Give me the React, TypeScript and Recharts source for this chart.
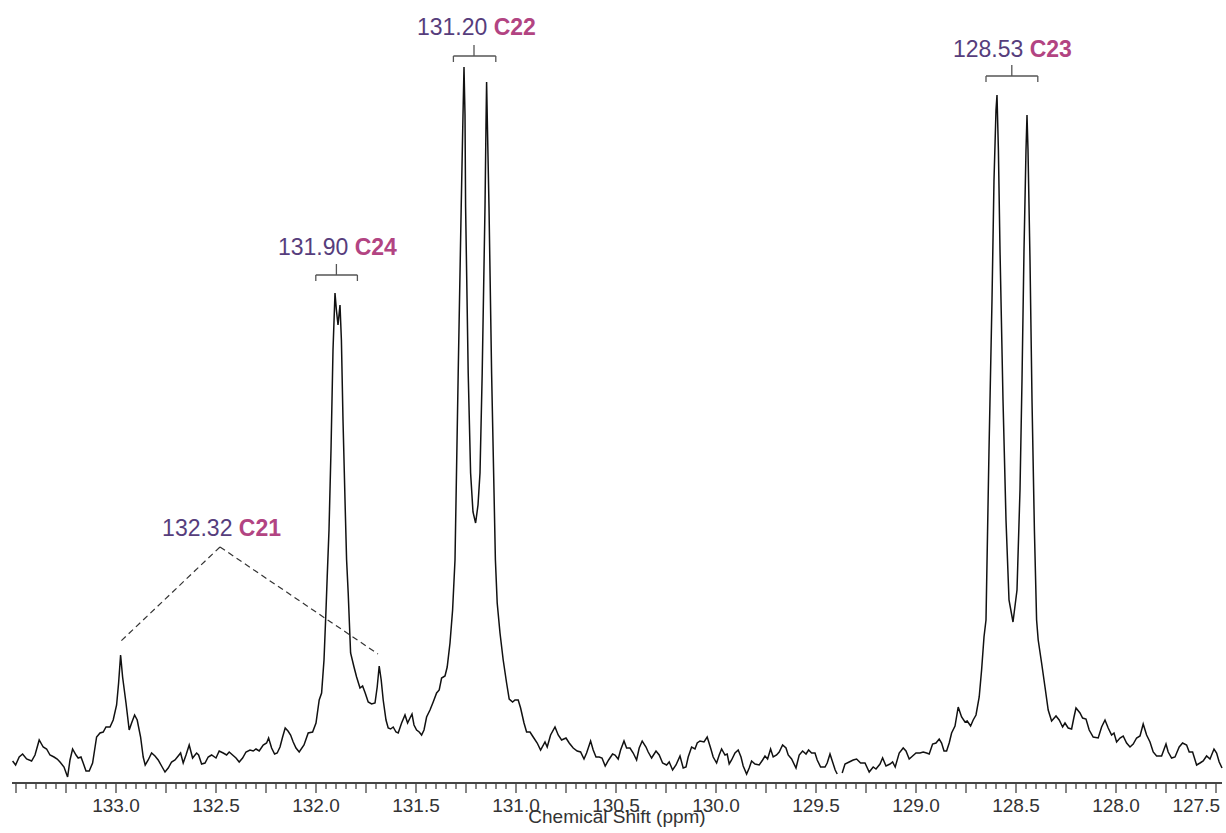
import { LineChart, Line, XAxis, YAxis, ReferenceLine, ReferenceDot } from 'recharts';

// 13C NMR, olefinic region. Shift in ppm, intensity in arbitrary units.
const shiftPpm = [
  133.517, 133.502, 133.484, 133.467, 133.447, 133.422, 133.405, 133.384, 133.364, 133.347,
  133.33, 133.31, 133.294, 133.28, 133.26, 133.242, 133.23, 133.217, 133.2, 133.189,
  133.175, 133.164, 133.15, 133.134, 133.117, 133.097, 133.08, 133.064, 133.05, 133.03,
  133.014, 132.997, 132.987, 132.977, 132.967, 132.95, 132.934, 132.922, 132.907, 132.894,
  132.877, 132.864, 132.854, 132.839, 132.822, 132.805, 132.789, 132.772, 132.755, 132.739,
  132.722, 132.705, 132.689, 132.677, 132.664, 132.65, 132.634, 132.617, 132.597, 132.587,
  132.572, 132.555, 132.539, 132.522, 132.5, 132.484, 132.464, 132.447, 132.434, 132.417,
  132.4, 132.384, 132.367, 132.35, 132.33, 132.314, 132.3, 132.284, 132.264, 132.247,
  132.237, 132.222, 132.207, 132.194, 132.18, 132.167, 132.154, 132.14, 132.127, 132.114,
  132.1, 132.084, 132.06, 132.039, 132.017, 132.0, 131.984, 131.972, 131.96, 131.95,
  131.944, 131.935, 131.925, 131.915, 131.905, 131.898, 131.89, 131.88, 131.873, 131.865,
  131.855, 131.847, 131.839, 131.827, 131.81, 131.797, 131.78, 131.767, 131.754, 131.739,
  131.722, 131.705, 131.694, 131.684, 131.674, 131.664, 131.65, 131.639, 131.627, 131.614,
  131.6, 131.589, 131.572, 131.555, 131.542, 131.53, 131.52, 131.51, 131.497, 131.484,
  131.472, 131.46, 131.447, 131.43, 131.414, 131.397, 131.384, 131.372, 131.355, 131.344,
  131.33, 131.317, 131.305, 131.289, 131.274, 131.265, 131.26, 131.255, 131.252, 131.239,
  131.227, 131.215, 131.202, 131.19, 131.18, 131.169, 131.155, 131.15, 131.147, 131.143,
  131.135, 131.122, 131.103, 131.094, 131.08, 131.064, 131.047, 131.034, 131.017, 131.005,
  130.989, 130.977, 130.96, 130.947, 130.93, 130.914, 130.894, 130.877, 130.855, 130.844,
  130.827, 130.805, 130.789, 130.772, 130.75, 130.734, 130.714, 130.694, 130.677, 130.66,
  130.647, 130.627, 130.614, 130.6, 130.584, 130.57, 130.554, 130.537, 130.517, 130.505,
  130.489, 130.477, 130.46, 130.447, 130.43, 130.414, 130.397, 130.384, 130.369, 130.35,
  130.339, 130.322, 130.3, 130.284, 130.267, 130.247, 130.234, 130.217, 130.2, 130.18,
  130.164, 130.15, 130.139, 130.122, 130.105, 130.094, 130.08, 130.06, 130.044, 130.027,
  130.014, 129.997, 129.984, 129.972, 129.955, 129.944, 129.934, 129.922, 129.905, 129.889,
  129.875, 129.864, 129.847, 129.834, 129.822, 129.805, 129.784, 129.767, 129.755, 129.742,
  129.727, 129.714, 129.697, 129.684, 129.667, 129.65, 129.639, 129.622, 129.6, 129.584,
  129.567, 129.55, 129.537, 129.522, 129.505, 129.494, 129.477, 129.455, 129.444, 129.43,
  129.417, 129.404, 129.394, 129.38, 129.369, 129.355, 129.334, 129.314, 129.297, 129.277,
  129.255, 129.234, 129.214, 129.2, 129.18, 129.167, 129.15, 129.13, 129.117, 129.104,
  129.084, 129.064, 129.05, 129.034, 129.017, 129.0, 128.98, 128.964, 128.947, 128.934,
  128.917, 128.9, 128.884, 128.872, 128.86, 128.847, 128.834, 128.822, 128.805, 128.789,
  128.772, 128.755, 128.744, 128.727, 128.714, 128.7, 128.684, 128.672, 128.66, 128.65,
  128.635, 128.62, 128.61, 128.6, 128.595, 128.588, 128.58, 128.565, 128.55, 128.535,
  128.515, 128.495, 128.48, 128.47, 128.46, 128.45, 128.445, 128.44, 128.43, 128.42,
  128.408, 128.397, 128.389, 128.372, 128.355, 128.339, 128.322, 128.3, 128.284, 128.267,
  128.255, 128.239, 128.222, 128.21, 128.2, 128.18, 128.167, 128.15, 128.134, 128.114,
  128.089, 128.072, 128.055, 128.039, 128.022, 128.01, 127.997, 127.98, 127.964, 127.947,
  127.93, 127.914, 127.897, 127.88, 127.864, 127.847, 127.83, 127.814, 127.797, 127.772,
  127.75, 127.739, 127.722, 127.705, 127.684, 127.667, 127.647, 127.634, 127.617, 127.597,
  127.58, 127.564, 127.547, 127.53, 127.51, 127.497, 127.484, 127.47,
];

// null = acquisition gap, the trace is broken there
const intensity = [
  22, 18, 26, 29, 24, 22, 28, 43, 36, 34,
  28, 26, 24, 21, 16, 6, 23, 34, 28, 25,
  26, 20, 12, 12, 20, 46, 50, 51, 56, 56,
  63, 78, 100, 128, 106, 80, 53, 60, 68, 63,
  46, 26, 18, 23, 30, 27, 23, 17, 11, 15,
  21, 23, 27, 30, 20, 28, 38, 25, 30, 28,
  19, 20, 26, 28, 25, 32, 30, 28, 31, 28,
  25, 21, 25, 31, 33, 32, 34, 32, 38, 40,
  45, 35, 29, 30, 36, 46, 55, 52, 48, 41,
  35, 31, 38, 50, 51, 60, 83, 90, 123, 173,
  206, 253, 333, 433, 490, 473, 458, 478, 443, 363,
  283, 223, 190, 130, 116, 106, 95, 97, 90, 81,
  79, 80, 96, 117, 103, 83, 63, 55, 54, 56,
  51, 50, 60, 68, 60, 65, 69, 58, 53, 51,
  48, 53, 66, 73, 81, 90, 93, 105, 107, 116,
  140, 173, 223, 410, 576, 668, 716, 668, 576, 410,
  310, 271, 260, 278, 310, 410, 576, 658, 701, 658,
  576, 410, 223, 180, 150, 123, 100, 84, 81, 83,
  83, 75, 60, 51, 51, 46, 40, 33, 41, 36,
  48, 56, 48, 43, 45, 40, 35, 32, 31, 24,
  30, 42, 33, 26, 26, 25, 17, 23, 29, 28,
  24, 33, 42, 35, 35, 30, 23, 35, 42, 36,
  31, 25, 32, 28, 20, 18, 21, 13, 18, 27,
  15, 16, 26, 36, 34, 40, 42, 41, 46, 35,
  26, 20, 28, 34, 28, 29, 19, 23, 30, 33,
  26, 17, 9, 15, 22, 19, 18, 23, 27, 24,
  34, 26, 28, 31, 38, 35, 28, 24, 15, 28,
  32, 29, 33, 30, 30, 23, 16, 16, 20, 29,
  21, 13, 9, null, 10, 19, 21, 23, 24, 20,
  20, 11, 16, 14, 19, 25, 17, 19, 21, 16,
  30, 35, 32, 24, 27, 30, 30, 31, 30, 29,
  39, 40, 44, 40, 32, 32, 40, 50, 57, 76,
  66, 61, 62, 57, 63, 68, 86, 113, 146, 163,
  333, 483, 603, 673, 688, 633, 533, 383, 263, 183,
  161, 193, 293, 403, 533, 633, 668, 633, 523, 383,
  253, 163, 143, 120, 96, 73, 62, 67, 63, 56,
  60, 55, 54, 66, 75, 70, 65, 64, 53, 46,
  45, 56, 63, 55, 48, 50, 41, 45, 47, 40,
  36, 39, 45, 47, 59, 48, 41, 31, 27, 27,
  39, 31, 25, 26, 36, 40, 38, 31, 31, 18,
  20, 22, 27, 24, 34, 30, 21, 15,
];

const tickLabels = [
  '133.0', '132.5', '132.0', '131.5', '131.0', '130.5',
  '130.0', '129.5', '129.0', '128.5', '128.0', '127.5',
];

const peakShifts = ['132.32', '131.90', '131.20', '128.53'];
const peakCarbons = ['C21', 'C24', 'C22', 'C23'];

// where each annotation sits, in chart units [ppm, intensity]
const labelAnchors = [
  [132.472, 247],
  [131.893, 528],
  [131.198, 748],
  [128.518, 726],
];

// brackets over the split signals (C24, C22, C23)
const brackets = [
  { left: 132.001, right: 131.793, mid: 131.898, level: 508 },
  { left: 131.313, right: 131.101, mid: 131.21, level: 727 },
  { left: 128.65, right: 128.391, mid: 128.521, level: 707 },
];

// dashed leader for the weak C21 signal: apex, then the two ends
const c21Leader = { apex: [132.48, 236], ends: [[132.98, 141], [131.69, 129]] };

const spectrum = shiftPpm.map((ppm, i) => ({ ppm, intensity: intensity[i] }));

const axisTicks = Array.from({ length: 121 }, (_, i) => Math.round((127.5 + i * 0.05) * 100) / 100);
const lastTick = axisTicks[0];

const NUM_COLOR = '#563d7c';
const ATOM_COLOR = '#b24482';
const AXIS_COLOR = '#444';

function PpmTick({ x, y, payload }: any) {
  const hundredths = Math.round(payload.value * 100);
  const major = hundredths % 25 === 0;
  const text = payload.value.toFixed(1);
  const labelled = hundredths % 50 === 0 && tickLabels.includes(text);
  // the rightmost label is pulled inside the chart edge
  const atEdge = payload.value === lastTick;
  return (
    <g>
      <line x1={x} x2={x} y1={y} y2={y + (major ? 10 : 6)} stroke={AXIS_COLOR} strokeWidth={1.3} />
      {labelled && (
        <text
          x={atEdge ? x + 4 : x}
          y={y + 29}
          textAnchor={atEdge ? 'end' : 'middle'}
          fontSize={19}
          fill="#333"
        >
          {text}
        </text>
      )}
    </g>
  );
}

function AxisTitle({ viewBox }: any) {
  return (
    <text x={viewBox.x + viewBox.width / 2} y={viewBox.y + 40} textAnchor="middle" fontSize={19} fill="#333">
      Chemical Shift (ppm)
    </text>
  );
}

function peakLabel(shift: string, carbon: string) {
  return ({ viewBox }: any) => (
    <text x={viewBox.x} y={viewBox.y} textAnchor="middle" fontSize={23}>
      <tspan fill={NUM_COLOR}>{shift + '\u00a0'}</tspan>
      <tspan fill={ATOM_COLOR} fontWeight="bold">{carbon}</tspan>
    </text>
  );
}

export default function App() {
  const bracketLines = brackets.flatMap((b, i) => [
    <ReferenceLine key={`bh${i}`} segment={[{ x: b.left, y: b.level }, { x: b.right, y: b.level }]} stroke="#555" strokeWidth={1.3} />,
    <ReferenceLine key={`bl${i}`} segment={[{ x: b.left, y: b.level }, { x: b.left, y: b.level - 6 }]} stroke="#555" strokeWidth={1.3} />,
    <ReferenceLine key={`br${i}`} segment={[{ x: b.right, y: b.level }, { x: b.right, y: b.level - 6 }]} stroke="#555" strokeWidth={1.3} />,
    <ReferenceLine key={`bm${i}`} segment={[{ x: b.mid, y: b.level }, { x: b.mid, y: b.level + 11 }]} stroke="#555" strokeWidth={1.3} />,
  ]);

  const leaderLines = c21Leader.ends.map((end, i) => (
    <ReferenceLine
      key={`ld${i}`}
      segment={[{ x: c21Leader.apex[0], y: c21Leader.apex[1] }, { x: end[0], y: end[1] }]}
      stroke="#333"
      strokeWidth={1.2}
      strokeDasharray="6 4"
    />
  ));

  return (
    <div style={{ position: 'absolute', left: 0, top: 0, background: '#fff', fontFamily: '"Liberation Sans", Arial, sans-serif' }}>
      <LineChart width={1226} height={833} data={spectrum} margin={{ top: 10, right: 4, bottom: 0, left: 12 }}>
        <XAxis
          dataKey="ppm"
          type="number"
          domain={[127.47, 133.52]}
          reversed
          ticks={axisTicks}
          interval={0}
          tick={<PpmTick />}
          tickLine={false}
          tickSize={0}
          tickMargin={0}
          axisLine={{ stroke: AXIS_COLOR, strokeWidth: 1.8 }}
          height={50}
          label={AxisTitle}
        />
        <YAxis hide type="number" domain={[0, 773]} />
        <Line
          dataKey="intensity"
          type="linear"
          stroke="#111"
          strokeWidth={1.5}
          dot={false}
          activeDot={false}
          isAnimationActive={false}
        />
        {bracketLines}
        {leaderLines}
        {peakShifts.map((shift, i) => (
          <ReferenceDot
            key={`lab${i}`}
            x={labelAnchors[i][0]}
            y={labelAnchors[i][1]}
            r={0}
            fill="none"
            stroke="none"
            label={peakLabel(shift, peakCarbons[i])}
          />
        ))}
      </LineChart>
    </div>
  );
}
